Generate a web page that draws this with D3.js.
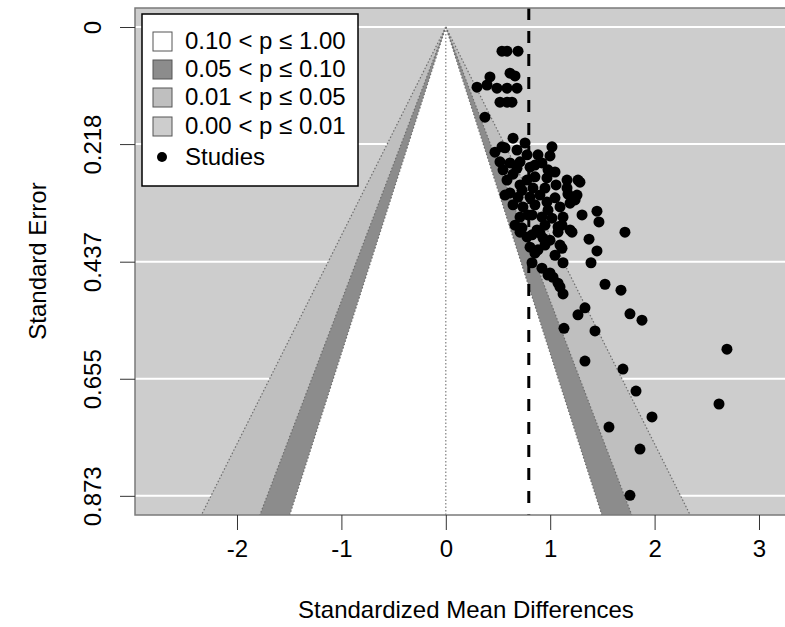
<!DOCTYPE html>
<html>
<head>
<meta charset="utf-8">
<script src="https://cdn.jsdelivr.net/npm/d3@7"></script>
<style>
  body { margin: 0; background: #fff; }
  text { font-family: "Liberation Sans", Arial, sans-serif; }
</style>
</head>
<body>
<div id="chart"></div>
<script>
// study effects (standardized mean differences) and their standard errors
const smd = [
  0.538, 0.586, 0.692, 0.423, 0.615, 0.663, 0.299, 0.395, 0.490, 0.586,
  0.682, 0.519, 0.586, 0.634, 0.375, 0.644, 0.759, 0.471, 0.567, 0.682,
  0.778, 1.017, 0.998, 0.883, 0.519, 0.615, 0.711, 0.807, 0.921, 1.046,
  0.586, 0.644, 0.778, 0.854, 0.969, 1.161, 1.161, 1.170, 1.266, 0.615,
  0.692, 0.807, 0.902, 0.644, 0.739, 0.854, 0.969, 1.046, 1.094, 1.190,
  0.711, 0.826, 0.921, 1.017, 1.123, 1.075, 1.190, 0.778, 0.807, 0.854,
  0.931, 0.874, 1.113, 1.123, 0.826, 1.448, 1.467, 1.716, 1.372, 1.448,
  1.391, 1.525, 1.678, 1.764, 1.879, 1.333, 1.266, 1.132, 1.429, 0.998,
  1.027, 1.094, 1.123, 1.305, 1.238, 1.257, 1.285, 0.826, 0.902, 0.950,
  0.883, 1.075, 1.209, 1.094, 0.921, 0.979, 1.075, 2.693, 1.333, 1.697,
  1.822, 2.617, 1.975, 1.563, 1.860, 1.764, 0.663, 0.730, 0.950, 0.538,
  0.711, 0.998, 0.548, 0.682, 0.854, 0.979, 0.730, 0.835, 1.056, 0.567,
  0.787, 0.979, 1.113, 0.950, 0.711, 1.046
];
const sei = [
  0.045, 0.045, 0.045, 0.093, 0.086, 0.091, 0.112, 0.108, 0.114, 0.114,
  0.114, 0.140, 0.140, 0.140, 0.168, 0.207, 0.216, 0.233, 0.225, 0.229,
  0.238, 0.223, 0.240, 0.238, 0.251, 0.253, 0.251, 0.261, 0.253, 0.270,
  0.285, 0.274, 0.285, 0.279, 0.281, 0.285, 0.300, 0.311, 0.285, 0.309,
  0.317, 0.317, 0.313, 0.331, 0.335, 0.331, 0.326, 0.318, 0.335, 0.328,
  0.354, 0.350, 0.354, 0.356, 0.354, 0.372, 0.378, 0.391, 0.410, 0.421,
  0.393, 0.378, 0.412, 0.439, 0.439, 0.343, 0.363, 0.382, 0.395, 0.417,
  0.439, 0.479, 0.490, 0.534, 0.546, 0.523, 0.536, 0.561, 0.566, 0.458,
  0.466, 0.484, 0.497, 0.350, 0.322, 0.313, 0.289, 0.387, 0.384, 0.406,
  0.415, 0.382, 0.382, 0.406, 0.449, 0.462, 0.477, 0.600, 0.622, 0.637,
  0.678, 0.702, 0.726, 0.745, 0.786, 0.872, 0.369, 0.374, 0.300, 0.223,
  0.294, 0.397, 0.266, 0.263, 0.257, 0.266, 0.304, 0.300, 0.294, 0.313,
  0.350, 0.341, 0.369, 0.369, 0.382, 0.425
];
const pooled = 0.795;

// contour levels
const zCrit = [2.576, 1.960, 1.645];
const legendLabels = ["0.10 < p \u2264 1.00", "0.05 < p \u2264 0.10", "0.01 < p \u2264 0.05", "0.00 < p \u2264 0.01", "Studies"];

const xTicks = [-2, -1, 0, 1, 2, 3];
const yTicks = [0, 0.218, 0.437, 0.655, 0.873];

const W = 785, H = 627;
const BG = "#cdcdcd";
const shade = ["#bfbfbf", "#8c8c8c", "#ffffff"];
const legendFill = ["#ffffff", "#8c8c8c", "#bfbfbf", "#cdcdcd"];

const svg = d3.select("#chart").append("svg")
  .attr("width", W).attr("height", H);

const x = d3.scaleLinear().domain([-2.977, 3.364]).range([135, 797]);
const y = d3.scaleLinear().domain([-0.0354, 0.9087]).range([8, 515]);
const seMax = y.domain()[1];

svg.append("clipPath").attr("id", "clip")
  .append("rect").attr("x", 135).attr("y", 8).attr("width", 662).attr("height", 507);

const plot = svg.append("g").attr("clip-path", "url(#clip)");

plot.append("rect")
  .attr("x", 135).attr("y", 8).attr("width", 662).attr("height", 507)
  .attr("fill", BG);

// white grid lines
plot.selectAll(".grid")
  .data(yTicks)
  .enter()
  .append("line")
  .attr("x1", 135).attr("x2", 797)
  .attr("y1", d => y(d)).attr("y2", d => y(d))
  .attr("stroke", "#fff").attr("stroke-width", 2);

// contour regions
plot.selectAll(".contour")
  .data(zCrit)
  .enter()
  .append("path")
  .attr("d", z => "M" + x(-z * seMax) + "," + y(seMax) + "L" + x(0) + "," + y(0) +
    "L" + x(z * seMax) + "," + y(seMax) + "Z")
  .attr("fill", (z, i) => shade[i]);

zCrit.forEach(z => {
  [-1, 1].forEach(s => {
    plot.append("line")
      .attr("x1", x(0)).attr("y1", y(0))
      .attr("x2", x(s * z * seMax)).attr("y2", y(seMax))
      .attr("stroke", "#6e6e6e").attr("stroke-width", 1.2)
      .attr("stroke-dasharray", "1.5,2");
  });
});

plot.append("line")
  .attr("x1", x(0)).attr("x2", x(0)).attr("y1", y(0)).attr("y2", 515)
  .attr("stroke", "#808080").attr("stroke-width", 1.2)
  .attr("stroke-dasharray", "1.5,2");

plot.append("line")
  .attr("x1", x(pooled)).attr("x2", x(pooled)).attr("y1", 8).attr("y2", 515)
  .attr("stroke", "#000").attr("stroke-width", 3)
  .attr("stroke-dasharray", "12,11");

plot.selectAll(".study")
  .data(smd)
  .enter()
  .append("circle")
  .attr("cx", d => x(d))
  .attr("cy", (d, i) => y(sei[i]))
  .attr("r", 5.5)
  .attr("fill", "#000");

svg.append("rect")
  .attr("x", 135).attr("y", 8).attr("width", 662).attr("height", 507)
  .attr("fill", "none").attr("stroke", "#7a7a7a").attr("stroke-width", 1.5);

// axes
const xAxis = svg.append("g")
  .attr("transform", "translate(0,515)")
  .call(d3.axisBottom(x).tickValues(xTicks).tickSize(15).tickFormat(d => String(d)));
xAxis.select(".domain").remove();
xAxis.selectAll("line").attr("stroke", "#333");
xAxis.selectAll("text")
  .attr("y", 42).attr("dy", 0)
  .attr("font-size", 24).attr("fill", "#000")
  .style("font-family", "'Liberation Sans', Arial, sans-serif");

const yAxis = svg.append("g")
  .attr("transform", "translate(135,0)")
  .call(d3.axisLeft(y).tickValues(yTicks).tickSize(15).tickFormat(d => d === 0 ? "0" : d3.format(".3f")(d)));
yAxis.select(".domain").remove();
yAxis.selectAll("line").attr("stroke", "#333");
yAxis.selectAll("text")
  .attr("x", 0).attr("dy", 0)
  .attr("transform", "translate(-34,0) rotate(-90)")
  .attr("text-anchor", "middle")
  .attr("font-size", 24).attr("fill", "#000")
  .style("font-family", "'Liberation Sans', Arial, sans-serif");

svg.append("text")
  .attr("x", 466).attr("y", 618)
  .attr("text-anchor", "middle").attr("font-size", 24)
  .text("Standardized Mean Differences");

svg.append("text")
  .attr("transform", "translate(46,261) rotate(-90)")
  .attr("text-anchor", "middle").attr("font-size", 24)
  .text("Standard Error");

// legend
const legend = svg.append("g");
legend.append("rect")
  .attr("x", 142).attr("y", 14).attr("width", 216).attr("height", 172)
  .attr("fill", "#fff").attr("stroke", "#000").attr("stroke-width", 1.5);

const rowY = [41, 69, 97, 126, 157];
legendLabels.forEach((lab, i) => {
  if (i < 4) {
    legend.append("rect")
      .attr("x", 153).attr("y", rowY[i] - 9).attr("width", 19).attr("height", 19)
      .attr("fill", legendFill[i]).attr("stroke", "#555").attr("stroke-width", 1);
  } else {
    legend.append("circle")
      .attr("cx", 162).attr("cy", rowY[i]).attr("r", 5).attr("fill", "#000");
  }
  legend.append("text")
    .attr("x", 185).attr("y", rowY[i] + 8)
    .attr("font-size", 24)
    .text(lab);
});
</script>
</body>
</html>
